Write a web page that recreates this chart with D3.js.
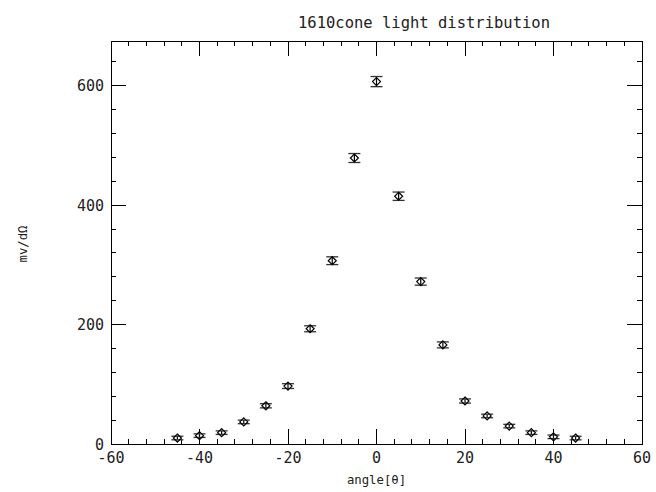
<!DOCTYPE html>
<html><head><meta charset="utf-8">
<script src="https://cdn.jsdelivr.net/npm/d3@7"></script>
<style>body{margin:0;background:#fff}text{font-family:"DejaVu Sans Mono",monospace;fill:#222}</style>
</head><body><svg id="c" width="656" height="492"></svg>
<script>
const angles = [-45,-40,-35,-30,-25,-20,-15,-10,-5,0,5,10,15,20,25,30,35,40,45];
const values = [10,14,19,37,64,97,193,307,479,607,415,272,166,72,47,30,19,12,10];
const errors = [3,3,3,3,3.5,4,5,6.5,7.5,8.5,7,6,5,3.5,3,3,3,3,3];
const xMajor = [-60,-40,-20,0,20,40,60];
const yMajor = [0,200,400,600];
const title = "1610cone light distribution";
const xLabel = "angle[θ]";
const yLabel = "mv/dΩ";

const svg = d3.select("#c");
const L=111, R=642, T=41, B=444;
const x = d3.scaleLinear().domain([-60,60]).range([L,R]);
const y = d3.scaleLinear().domain([0,675]).range([B,T]);

const xMinor = d3.range(-60,60.1,4).filter(v=>!xMajor.includes(v));
const yMinor = d3.range(0,675,40).filter(v=>!yMajor.includes(v));

const g = svg.append("g").attr("stroke","#000").attr("stroke-width",1).attr("shape-rendering","crispEdges");
g.append("rect").attr("x",L).attr("y",T).attr("width",R-L).attr("height",B-T).attr("fill","none");
xMajor.concat(xMinor).forEach(v=>{
  const len = xMajor.includes(v)?15:5;
  g.append("line").attr("x1",x(v)).attr("x2",x(v)).attr("y1",B).attr("y2",B-len);
  g.append("line").attr("x1",x(v)).attr("x2",x(v)).attr("y1",T).attr("y2",T+len);
});
yMajor.concat(yMinor).forEach(v=>{
  const len = yMajor.includes(v)?15:5;
  g.append("line").attr("y1",y(v)).attr("y2",y(v)).attr("x1",L).attr("x2",L+len);
  g.append("line").attr("y1",y(v)).attr("y2",y(v)).attr("x1",R).attr("x2",R-len);
});

svg.selectAll(".xt").data(xMajor).join("text").attr("x",d=>x(d)).attr("y",463)
  .attr("text-anchor","middle").attr("font-size",15).text(d=>d);
svg.selectAll(".yt").data(yMajor).join("text").attr("x",104).attr("y",d=>y(d)+5.5)
  .attr("text-anchor","end").attr("font-size",15).text(d=>d);

svg.append("text").attr("x",298).attr("y",28).attr("font-size",15.5).text(title);
svg.append("text").attr("x",(L+R)/2).attr("y",484).attr("text-anchor","middle").attr("font-size",12.3).text(xLabel);
svg.append("text").attr("transform","translate(27,244) rotate(-90)").attr("text-anchor","middle").attr("font-size",12.3).text(yLabel);

const data = angles.map((a,i)=>({a,v:values[i],e:errors[i]}));
const pts = svg.append("g").attr("stroke","#000").attr("fill","none");
data.forEach(d=>{
  const cx=x(d.a), cy=y(d.v), y1=y(d.v+d.e), y2=y(d.v-d.e);
  pts.append("line").attr("x1",cx).attr("x2",cx).attr("y1",y1).attr("y2",y2).attr("stroke-width",1.2);
  pts.append("line").attr("x1",cx-6).attr("x2",cx+6).attr("y1",y1).attr("y2",y1).attr("stroke-width",1.3).attr("stroke","#333");
  pts.append("line").attr("x1",cx-6).attr("x2",cx+6).attr("y1",y2).attr("y2",y2).attr("stroke-width",1.3).attr("stroke","#333");
  pts.append("path").attr("d",`M${cx},${cy-4}L${cx+4},${cy}L${cx},${cy+4}L${cx-4},${cy}Z`).attr("stroke-width",1.2);
});
</script></body></html>
